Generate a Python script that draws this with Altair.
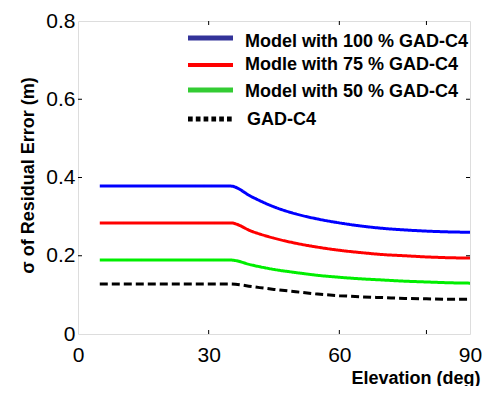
import altair as alt
import pandas as pd

elev = [5, 35, 40, 45, 50, 55, 60, 65, 70, 75, 80, 85, 90]
m100 = [0.378, 0.378, 0.350, 0.325, 0.307, 0.294, 0.284, 0.276, 0.270, 0.266, 0.263, 0.261, 0.260]
m75 = [0.284, 0.284, 0.262, 0.245, 0.232, 0.222, 0.214, 0.208, 0.203, 0.200, 0.197, 0.195, 0.194]
m50 = [0.189, 0.189, 0.176, 0.165, 0.157, 0.150, 0.145, 0.141, 0.138, 0.135, 0.133, 0.131, 0.130]
gad = [0.128, 0.128, 0.121, 0.114, 0.108, 0.102, 0.098, 0.095, 0.093, 0.091, 0.090, 0.089, 0.089]

series_names = ["Model with 100 % GAD-C4", "Modle with 75 % GAD-C4",
                "Model with 50 % GAD-C4", "GAD-C4"]
series_vals = [m100, m75, m50, gad]
colors = ["#0000ff", "#ff0000", "#00ee00", "#000000"]
dashes = [[1, 0], [1, 0], [1, 0], [8, 4]]

# legend styling (the legend swatches use slightly different colours)
legend_colors = ["#333399", "#ff0000", "#33cc33", "#000000"]
legend_dashes = [[1, 0], [1, 0], [1, 0], [4.7, 3.1]]
legend_widths = [5, 4, 5, 5]
legend_line_y = [17, 44, 69, 98]
legend_text_y = [26, 49, 76, 104]
legend_text_x = [167, 167, 167, 169]

x_ticks_lbl = [0, 30, 60, 90]
x_ticks_in = [30, 60, 80]
y_ticks_lbl = [0, 0.2, 0.4, 0.6, 0.8]
y_ticks_in = [0.2, 0.4, 0.6]

rows = []
for name, vals in zip(series_names, series_vals):
    for e, v in zip(elev, vals):
        rows.append({"elev": e, "val": v, "series": name})
df = pd.DataFrame(rows)

W, H = 392, 313
FONT = "Liberation Sans"

x_axis = alt.Axis(values=x_ticks_lbl, tickSize=0, domain=False, grid=False,
                  labelFontSize=21, labelFont=FONT, labelColor="black",
                  labelPadding=10, labelFlush=False,
                  title="Elevation (deg)", titleFont=FONT, titleFontSize=18,
                  titleFontWeight="bold", titleAlign="right", titleAnchor="end",
                  titleX=402, titleY=49, titleBaseline="alphabetic", titleColor="black")
y_axis = alt.Axis(values=y_ticks_lbl, tickSize=0, domain=False, grid=False,
                  labelFontSize=21, labelFont=FONT, labelColor="black",
                  labelPadding=3, labelFlush=False,
                  labelExpr="datum.value == 0 ? '0' : format(datum.value, '.1f')",
                  title="σ of Residual Error (m)", titleFont=FONT, titleFontSize=18,
                  titleFontWeight="bold", titleAngle=-90, titleAlign="center",
                  titleX=-45, titleY=154, titleBaseline="alphabetic", titleColor="black")

x_scale = alt.Scale(domain=[0, 90], nice=False, zero=False)
y_scale = alt.Scale(domain=[0, 0.8], nice=False, zero=False)

lines = alt.Chart(df).mark_line(strokeWidth=3, interpolate="monotone").encode(
    x=alt.X("elev:Q", scale=x_scale, axis=x_axis),
    y=alt.Y("val:Q", scale=y_scale, axis=y_axis),
    color=alt.Color("series:N", sort=series_names,
                    scale=alt.Scale(domain=series_names, range=colors),
                    legend=None),
    strokeDash=alt.StrokeDash("series:N", sort=series_names,
                              scale=alt.Scale(domain=series_names, range=dashes),
                              legend=None),
)

xt = pd.DataFrame({"elev": x_ticks_in})
yt = pd.DataFrame({"val": y_ticks_in})

tb = alt.Chart(xt).mark_rule(color="black", strokeWidth=1).encode(
    x=alt.X("elev:Q", scale=x_scale, axis=x_axis), y=alt.value(H), y2=alt.value(H - 4))
tt = alt.Chart(xt).mark_rule(color="black", strokeWidth=1).encode(
    x=alt.X("elev:Q", scale=x_scale, axis=x_axis), y=alt.value(0), y2=alt.value(4))
tl = alt.Chart(yt).mark_rule(color="black", strokeWidth=1).encode(
    y=alt.Y("val:Q", scale=y_scale, axis=y_axis), x=alt.value(0), x2=alt.value(4))
tr = alt.Chart(yt).mark_rule(color="black", strokeWidth=1).encode(
    y=alt.Y("val:Q", scale=y_scale, axis=y_axis), x=alt.value(W), x2=alt.value(W - 4))

legend_layers = []
for i, name in enumerate(series_names):
    ld = pd.DataFrame({"series": [name]})
    legend_layers.append(
        alt.Chart(ld).mark_rule(color=legend_colors[i], strokeWidth=legend_widths[i],
                                strokeDash=legend_dashes[i]).encode(
            x=alt.value(110), x2=alt.value(155), y=alt.value(legend_line_y[i]))
    )
    legend_layers.append(
        alt.Chart(ld).mark_text(align="left", baseline="alphabetic", font=FONT,
                                fontSize=18, fontWeight="bold", color="black").encode(
            x=alt.value(legend_text_x[i]), y=alt.value(legend_text_y[i]),
            text=alt.Text("series:N"))
    )

chart = alt.layer(lines, tb, tt, tl, tr, *legend_layers).properties(
    width=W, height=H,
    autosize=alt.AutoSizeParams(type="none"),
    padding={"left": 70, "top": 13, "right": 12, "bottom": 52},
).configure_view(stroke="black", strokeWidth=1.2).configure(background="white")

chart.save("out.html", embed_options={"renderer": "svg", "actions": False})
